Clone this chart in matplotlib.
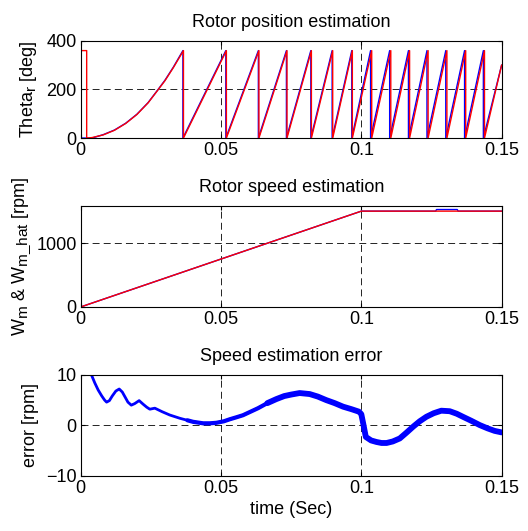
import matplotlib
matplotlib.use("Agg")
import matplotlib.pyplot as plt
import matplotlib._mathtext as mathtext_internal

plt.rcParams['font.family'] = ['Liberation Sans', 'DejaVu Sans']
plt.rcParams['mathtext.fontset'] = 'custom'
plt.rcParams['mathtext.rm'] = 'Liberation Sans'
plt.rcParams['mathtext.it'] = 'Liberation Sans:italic'
plt.rcParams['lines.scale_dashes'] = False
# MATLAB-style subscripts are only slightly smaller than the main text
mathtext_internal.SHRINK_FACTOR = 0.85

FS = 13

# rotor position (deg), actual (red) and estimated (blue)
t_first = [0.0, 0.0, 0.0021, 0.0021, 0.004, 0.008, 0.012, 0.016, 0.020, 0.024,
           0.0273, 0.030, 0.033, 0.0366]
theta_first = [0, 360, 360, 0, 2, 13, 32, 60, 97, 145, 195, 236, 290, 360]
t_first_hat = [0.0, 0.004, 0.008, 0.012, 0.016, 0.020, 0.024, 0.0273, 0.030,
               0.033, 0.0364]
theta_first_hat = [0, 0, 14, 33, 61, 98, 146, 196, 238, 292, 360]
t_wrap = [0.0366, 0.0519, 0.0635, 0.0735, 0.0822, 0.0898, 0.0968, 0.1037,
          0.1105, 0.1172, 0.1238, 0.1305, 0.1372, 0.1439]
t_wrap_hat = [0.0364, 0.0517, 0.0633, 0.0733, 0.0820, 0.0896, 0.0966, 0.1033,
              0.1101, 0.1168, 0.1234, 0.1301, 0.1368, 0.1435]
theta_end = 300

# rotor speed (rpm)
t_speed = [0.0, 0.1, 0.15]
w_speed = [0, 1500, 1500]
t_speed_hat = [0.0, 0.1, 0.1265, 0.1268, 0.1342, 0.1345, 0.15]
w_speed_hat = [0, 1500, 1500, 1525, 1525, 1500, 1500]

# speed estimation error (rpm)
t_err = [0.0038, 0.0050, 0.0062, 0.0075, 0.0085, 0.0092, 0.0102, 0.0112, 0.0125,
         0.0137, 0.0148, 0.0158, 0.0168, 0.0180, 0.0192, 0.0208, 0.0222, 0.0235,
         0.0246, 0.0264, 0.0290, 0.0317, 0.0353, 0.0380, 0.0400, 0.0436, 0.0460,
         0.0483, 0.0510, 0.0531, 0.0555, 0.0578, 0.0605, 0.0632, 0.0665, 0.0697,
         0.0725, 0.0750, 0.0780, 0.0816, 0.0845, 0.0875, 0.0905, 0.0935, 0.0965,
         0.0992, 0.1000, 0.1008, 0.1016, 0.1035, 0.1054, 0.1072, 0.1090, 0.1112,
         0.1137, 0.1160, 0.1184, 0.1208, 0.1232, 0.1258, 0.1285, 0.1315, 0.1340,
         0.1362, 0.1392, 0.1422, 0.1450, 0.1475, 0.1500]
e_err = [10.0, 8.4, 7.0, 5.8, 5.0, 4.6, 4.9, 5.8, 6.8, 7.2, 6.6, 5.6, 4.6, 4.0,
         4.3, 4.9, 4.2, 3.6, 3.2, 3.4, 2.7, 2.05, 1.4, 1.0, 0.7, 0.4, 0.4, 0.5,
         0.8, 1.2, 1.6, 2.0, 2.7, 3.4, 4.4, 5.2, 5.8, 6.1, 6.4, 6.2, 5.7, 5.0,
         4.4, 3.7, 3.2, 2.7, 2.2, 0.0, -2.3, -3.0, -3.3, -3.5, -3.5, -3.2, -2.6,
         -1.5, -0.3, 0.8, 1.7, 2.4, 2.9, 2.8, 2.3, 1.7, 0.9, 0.05, -0.6, -1.1, -1.4]

xticks = [0, 0.05, 0.1, 0.15]
xticklabels = ["0", "0.05", "0.1", "0.15"]

fig = plt.figure(figsize=(5.28, 5.31), dpi=100)
ax1 = fig.add_axes([0.153, 0.740, 0.797, 0.183])
ax2 = fig.add_axes([0.153, 0.422, 0.797, 0.190])
ax3 = fig.add_axes([0.153, 0.104, 0.797, 0.190])


def sawtooth(t0, th0, wraps):
    # ramps from 0 to 360 between successive wrap times
    ts = list(t0)
    ths = list(th0)
    for i in range(len(wraps)):
        ts.append(wraps[i])
        ths.append(0)
        if i + 1 < len(wraps):
            ts.append(wraps[i + 1])
            ths.append(360)
    ts.append(0.15)
    ths.append(theta_end)
    return ts, ths


tb, thb = sawtooth(t_first_hat, theta_first_hat, t_wrap_hat)
tr, thr = sawtooth(t_first, theta_first, t_wrap)
ax1.plot(tb, thb, color='blue', lw=1.0)
ax1.plot(tr, thr, color='red', lw=1.0)
ax1.set_ylim(0, 400)
ax1.set_yticks([0, 200, 400])
ax1.set_title("Rotor position estimation", fontsize=FS, pad=10)
ax1.set_ylabel("Theta$_\\mathrm{r}$ [deg]", fontsize=FS, labelpad=5)

ax2.plot(t_speed_hat, w_speed_hat, color='blue', lw=1.0)
ax2.plot(t_speed, w_speed, color='red', lw=1.0)
ax2.set_ylim(0, 1580)
ax2.set_yticks([0, 1000])
ax2.set_title("Rotor speed estimation", fontsize=FS, pad=10)
ax2.set_ylabel("W$_\\mathrm{m}$ & W$_\\mathrm{m\\_hat}$ [rpm]", fontsize=FS, labelpad=3)

# error trace gets thicker as the ripple grows
ax3.plot(t_err, e_err, color='blue', lw=2.0, solid_capstyle='round')
ax3.plot(t_err[23:], e_err[23:], color='blue', lw=3.0, solid_capstyle='round')
ax3.plot(t_err[34:], e_err[34:], color='blue', lw=4.2, solid_capstyle='round')
ax3.set_ylim(-10, 10)
ax3.set_yticks([-10, 0, 10])
ax3.set_title("Speed estimation error", fontsize=FS, pad=10)
ax3.set_ylabel("error [rpm]", fontsize=FS, labelpad=5)
ax3.set_xlabel("time (Sec)", fontsize=FS, labelpad=3)

for ax in (ax1, ax2, ax3):
    ax.set_xlim(0, 0.15)
    ax.set_xticks(xticks)
    ax.set_xticklabels(xticklabels)
    ax.tick_params(direction='in', length=3, top=True, right=True, labelsize=FS, pad=3)
    ax.grid(True, color='k', lw=0.6, linestyle=(0, (5, 3)))
    for s in ax.spines.values():
        s.set_linewidth(0.8)

fig.savefig("out.png", dpi=100)
